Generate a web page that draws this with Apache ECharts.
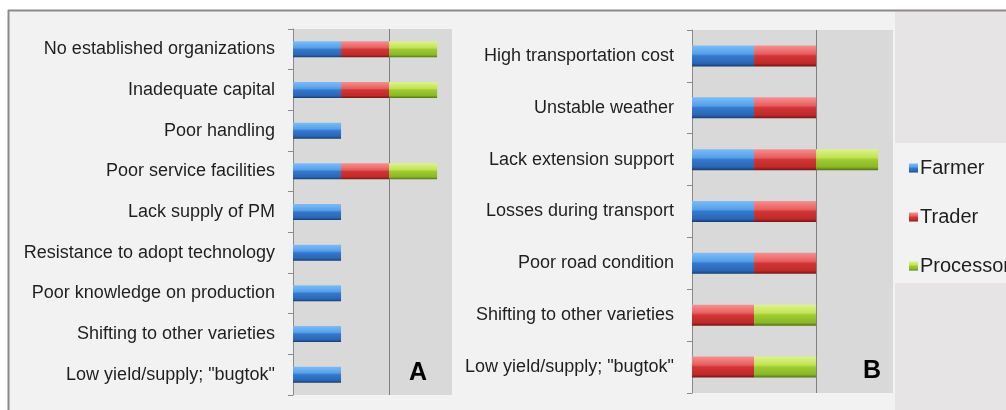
<!DOCTYPE html>
<html><head><meta charset="utf-8">
<script src="https://cdn.jsdelivr.net/npm/echarts@6/dist/echarts.min.js"></script>
<style>html,body{margin:0;padding:0;background:#fff}#c{width:1006px;height:410px}</style>
</head><body><div id="c"></div>
<script>
const categoriesA = ['No established organizations','Inadequate capital','Poor handling','Poor service facilities','Lack supply of PM','Resistance to adopt technology','Poor knowledge on production','Shifting to other varieties','Low yield/supply; "bugtok"'];
const farmerA    = [1,1,1,1,1,1,1,1,1];
const traderA    = [1,1,0,1,0,0,0,0,0];
const processorA = [1,1,0,1,0,0,0,0,0];
const categoriesB = ['High transportation cost','Unstable weather','Lack extension support','Losses during transport','Poor road condition','Shifting to other varieties','Low yield/supply; "bugtok"'];
const farmerB    = [1,1,1,1,1,0,0];
const traderB    = [1,1,1,1,1,1,1];
const processorB = [0,0,1,0,0,1,1];
const seriesNames = ['Farmer','Trader','Processor'];
const panelLabels = ['A','B'];

function grad(stops){return new echarts.graphic.LinearGradient(0,0,0,1,stops.map(s=>({offset:s[0],color:s[1]})));}
const colors = [
  grad([[0,'#7dbcf6'],[0.4,'#55a0ea'],[0.5,'#3479cf'],[0.85,'#2b66b4'],[1,'#173c72']]),
  grad([[0,'#f59090'],[0.4,'#e85e5e'],[0.5,'#d23535'],[0.85,'#bf2a2a'],[1,'#741414']]),
  grad([[0,'#dcf48a'],[0.4,'#c2e254'],[0.5,'#9fcc30'],[0.85,'#8ab726'],[1,'#52730f']])
];
const font = 'Liberation Sans, Arial, sans-serif';
const chart = echarts.init(document.getElementById('c'));
function yAxis(idx, cats){
  return {type:'category', gridIndex:idx, data:cats, inverse:true,
    axisLine:{show:true, lineStyle:{color:'#8a8a8a', width:1}},
    axisTick:{show:true, length:5, lineStyle:{color:'#8a8a8a'}},
    axisLabel:{fontSize:18, color:'#1f1f1f', fontFamily:font, margin:18},
    splitLine:{show:false}};
}
function xAxis(idx, max){
  return {type:'value', gridIndex:idx, min:0, max:max, interval:2,
    axisLine:{show:false}, axisTick:{show:false}, axisLabel:{show:false},
    splitLine:{show:true, lineStyle:{color:['transparent','#7f7f7f','transparent'], width:1}}};
}
const dataA = [farmerA, traderA, processorA];
const dataB = [farmerB, traderB, processorB];
const series = [];
seriesNames.forEach((n,i)=>{
  series.push({name:n, type:'bar', stack:'a', xAxisIndex:0, yAxisIndex:0, data:dataA[i], barWidth:16, itemStyle:{color:colors[i]}});
});
seriesNames.forEach((n,i)=>{
  series.push({name:n, type:'bar', stack:'b', xAxisIndex:1, yAxisIndex:1, data:dataB[i], barWidth:21, itemStyle:{color:colors[i]}});
});
chart.setOption({
  animation:false,
  backgroundColor:'#ffffff',
  grid:[
    {left:293, top:29, width:159, height:366, show:true, backgroundColor:'#d9d9d9', borderWidth:0, containLabel:false},
    {left:692, top:30, width:201, height:363, show:true, backgroundColor:'#d9d9d9', borderWidth:0, containLabel:false}
  ],
  xAxis:[xAxis(0, 3.31), xAxis(1, 3.24)],
  yAxis:[yAxis(0, categoriesA), yAxis(1, categoriesB)],
  legend:{orient:'vertical', left:904, top:153, itemWidth:9, itemHeight:9, itemGap:29, icon:'rect',
    data:seriesNames, textStyle:{fontSize:20, color:'#1f1f1f', fontFamily:font, padding:[0,0,0,-3]}},
  graphic:[
    {type:'rect', z:-10, shape:{x:9, y:11, width:886, height:399}, style:{fill:'#f2f2f2'}},
    {type:'rect', z:-10, shape:{x:895, y:11, width:111, height:399}, style:{fill:'#e6e4e5'}},
    {type:'rect', z:-9, shape:{x:893, y:143, width:113, height:140}, style:{fill:'#f2f2f2'}},
    {type:'line', z:-8, shape:{x1:8, y1:10.5, x2:1006, y2:10.5}, style:{stroke:'#8a8a8a', lineWidth:2}},
    {type:'line', z:-8, shape:{x1:8.5, y1:10, x2:8.5, y2:410}, style:{stroke:'#8a8a8a', lineWidth:2}},
    {type:'text', z:10, x:418, y:373, style:{text:panelLabels[0], fill:'#000', font:'bold 25px '+font, align:'center', verticalAlign:'middle'}},
    {type:'text', z:10, x:872, y:371, style:{text:panelLabels[1], fill:'#000', font:'bold 25px '+font, align:'center', verticalAlign:'middle'}}
  ],
  series:series
});
</script></body></html>
